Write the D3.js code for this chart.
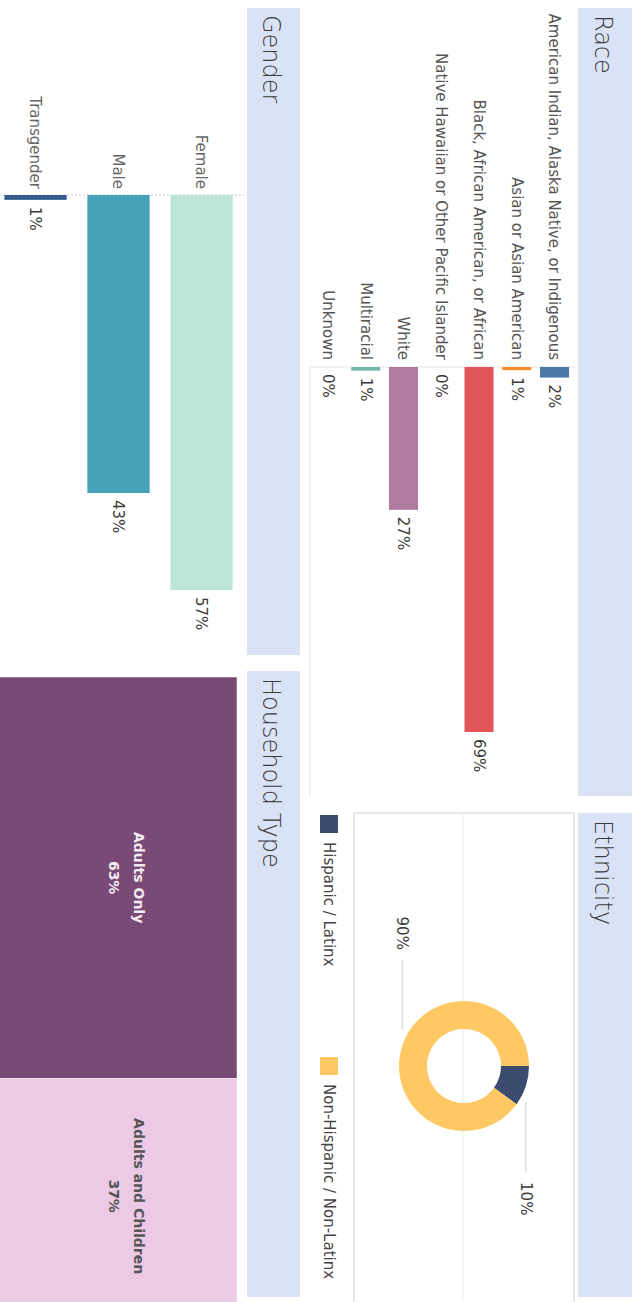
<!DOCTYPE html>
<html>
<head>
<meta charset="utf-8">
<script src="https://cdn.jsdelivr.net/npm/d3@7"></script>
<style>
	body { margin: 0; background: #fff; }
	text { font-family: "DejaVu Sans", sans-serif; }
</style>
</head>
<body>
<div id="dash"></div>
<script>
// data
// ---------------------------
const race_labels = [
	"American Indian, Alaska Native, or Indigenous",
	"Asian or Asian American",
	"Black, African American, or African",
	"Native Hawaiian or Other Pacific Islander",
	"White",
	"Multiracial",
	"Unknown"
];
const race_values = [0.02, 0.006, 0.69, 0, 0.27, 0.007, 0];

const ethnicity_labels = ["Hispanic / Latinx", "Non-Hispanic / Non-Latinx"];
const ethnicity_values = [0.10, 0.90];

const gender_labels = ["Female", "Male", "Transgender"];
const gender_values = [0.57, 0.43, 0.007];

const household_labels = ["Adults Only", "Adults and Children"];
const household_values = [0.63, 0.37];

// colors
let c_band = '#dae2f6',
	c_title = '#3a3a3a',
	c_label = '#555',
	c_value = '#3a3a3a',
	c_line = '#e3e3e3';

const race_colors = ['#4e79a7', '#f28e2b', '#e15759', '#76b7b2', '#b07aa1', '#76b7b2', '#59a14f'];
const ethnicity_colors = ['#3c4c6e', '#fec962'];
const gender_colors = ['#bde4d9', '#45a2b9', '#355a8d'];
const household_colors = ['#7a4a76', '#ecc9e4'];
const household_text = ['#f5ecf3', '#555'];

const pct = d3.format(".0%");

// the dashboard is drawn 1302 x 637 and turned a quarter clockwise
const W = 1302, H = 637;

let svg = d3.select("#dash")
	.append("svg")
	.attr("width", H)
	.attr("height", W);

let dash = svg.append("g")
	.attr("transform", "translate(" + H + ",0) rotate(90)");

// panel title bands
// ---------------------------
const panels = [
	{ title: "Race", x: 8, y: 5, w: 788, h: 54 },
	{ title: "Ethnicity", x: 813, y: 5, w: 484, h: 54 },
	{ title: "Gender", x: 8, y: 337, w: 647, h: 53 },
	{ title: "Household Type", x: 671, y: 337, w: 626, h: 53 }
];

let bands = dash.append("g").attr("id", "bands")
	.selectAll("g")
	.data(panels)
	.enter()
	.append("g");

bands.append("rect")
	.attr("x", d => d.x)
	.attr("y", d => d.y)
	.attr("width", d => d.w)
	.attr("height", d => d.h)
	.attr("fill", c_band);

bands.append("text")
	.attr("x", d => d.x + 7)
	.attr("y", d => d.y + 37)
	.attr("font-size", 24)
	.attr("font-weight", 200)
	.attr("fill", c_title)
	.text(d => d.title);

// race
// ---------------------------
let race = dash.append("g").attr("id", "race");

let race_y = d3.scaleBand()
	.domain(race_labels)
	.range([63.6, 327.9])
	.paddingInner(0.23)
	.paddingOuter(0.115);

let race_x = d3.scaleLinear()
	.domain([0, d3.max(race_values)])
	.range([367, 732]);

race.append("line")
	.attr("x1", race_x(0)).attr("x2", race_x(0))
	.attr("y1", 62).attr("y2", 327)
	.attr("stroke", c_line);

race.append("line")
	.attr("x1", race_x(0)).attr("x2", 796)
	.attr("y1", 327).attr("y2", 327)
	.attr("stroke", c_line);

race.selectAll(".bar")
	.data(race_values)
	.enter()
	.append("rect")
	.attr("class", "bar")
	.attr("x", race_x(0))
	.attr("y", (d, i) => race_y(race_labels[i]))
	.attr("width", d => race_x(d) - race_x(0))
	.attr("height", race_y.bandwidth())
	.attr("fill", (d, i) => race_colors[i]);

race.selectAll(".cat")
	.data(race_labels)
	.enter()
	.append("text")
	.attr("class", "cat")
	.attr("x", race_x(0) - 7)
	.attr("y", d => race_y(d) + race_y.bandwidth() / 2)
	.attr("dy", "0.35em")
	.attr("text-anchor", "end")
	.attr("font-size", 15)
	.attr("fill", c_label)
	.text(d => d);

race.selectAll(".val")
	.data(race_values)
	.enter()
	.append("text")
	.attr("class", "val")
	.attr("x", d => race_x(d) + 7)
	.attr("y", (d, i) => race_y(race_labels[i]) + race_y.bandwidth() / 2)
	.attr("dy", "0.35em")
	.attr("font-size", 15)
	.attr("fill", c_value)
	.text(d => pct(d));

// ethnicity
// ---------------------------
let eth = dash.append("g").attr("id", "ethnicity");

eth.append("rect")
	.attr("x", 813).attr("y", 63)
	.attr("width", 500).attr("height", 220)
	.attr("fill", "none")
	.attr("stroke", "#d2d2d2");

eth.append("line")
	.attr("x1", 814).attr("x2", 1313)
	.attr("y1", 174).attr("y2", 174)
	.attr("stroke", "#ededed");

let donut = eth.append("g")
	.attr("transform", "translate(1066,173)");

let pie = d3.pie().sort(null)(ethnicity_values);
let arc = d3.arc().innerRadius(37).outerRadius(65);
let rim = d3.arc().innerRadius(65).outerRadius(65);

donut.selectAll("path")
	.data(pie)
	.enter()
	.append("path")
	.attr("d", arc)
	.attr("fill", (d, i) => ethnicity_colors[i]);

// leader lines and labels
pie.forEach(function(d) {
	let p = rim.centroid(d);
	let side = p[0] >= 0 ? 1 : -1;
	donut.append("line")
		.attr("x1", p[0] + side * 16)
		.attr("x2", p[0] + side * 86)
		.attr("y1", p[1]).attr("y2", p[1])
		.attr("stroke", "#cfcfcf");
	donut.append("text")
		.attr("x", p[0] + side * 96)
		.attr("y", p[1])
		.attr("dy", "0.35em")
		.attr("text-anchor", side > 0 ? "start" : "end")
		.attr("font-size", 15)
		.attr("fill", c_value)
		.text(pct(d.data));
});

let legend_x = d3.scalePoint()
	.domain(ethnicity_labels)
	.range([815, 1057]);

let legend = eth.selectAll(".leg")
	.data(ethnicity_labels)
	.enter()
	.append("g")
	.attr("class", "leg")
	.attr("transform", d => "translate(" + legend_x(d) + ",299)");

legend.append("rect")
	.attr("width", 18).attr("height", 18)
	.attr("fill", (d, i) => ethnicity_colors[i]);

legend.append("text")
	.attr("x", 27).attr("y", 9)
	.attr("dy", "0.35em")
	.attr("font-size", 15)
	.attr("fill", "#444")
	.text(d => d);

// gender
// ---------------------------
let gender = dash.append("g").attr("id", "gender");

let gender_y = d3.scaleBand()
	.domain(gender_labels)
	.range([394, 643])
	.paddingInner(0.25)
	.paddingOuter(0.125);

let gender_x = d3.scaleLinear()
	.domain([0, d3.max(gender_values)])
	.range([195, 590]);

gender.append("line")
	.attr("x1", gender_x(0)).attr("x2", gender_x(0))
	.attr("y1", 392).attr("y2", 637)
	.attr("stroke", "#c8c8c8")
	.attr("stroke-dasharray", "2,2");

gender.selectAll(".bar")
	.data(gender_values)
	.enter()
	.append("rect")
	.attr("class", "bar")
	.attr("x", gender_x(0))
	.attr("y", (d, i) => gender_y(gender_labels[i]))
	.attr("width", d => gender_x(d) - gender_x(0))
	.attr("height", gender_y.bandwidth())
	.attr("fill", (d, i) => gender_colors[i]);

gender.selectAll(".cat")
	.data(gender_labels)
	.enter()
	.append("text")
	.attr("class", "cat")
	.attr("x", gender_x(0) - 6)
	.attr("y", d => gender_y(d) + gender_y.bandwidth() / 2)
	.attr("dy", "0.35em")
	.attr("text-anchor", "end")
	.attr("font-size", 15)
	.attr("fill", "#666")
	.text(d => d);

gender.selectAll(".val")
	.data(gender_values)
	.enter()
	.append("text")
	.attr("class", "val")
	.attr("x", d => gender_x(d) + 7)
	.attr("y", (d, i) => gender_y(gender_labels[i]) + gender_y.bandwidth() / 2)
	.attr("dy", "0.35em")
	.attr("font-size", 15)
	.attr("fill", c_value)
	.text(d => pct(d));

// household type
// ---------------------------
let root = d3.hierarchy({
		children: household_labels.map((k, i) => ({ name: k, value: household_values[i], i: i }))
	})
	.sum(d => d.value || 0);

d3.treemap()
	.tile(d3.treemapDice)
	.size([637, 240])(root);

let house = dash.append("g")
	.attr("id", "household")
	.attr("transform", "translate(677,400)");

let cell = house.selectAll("g")
	.data(root.leaves())
	.enter()
	.append("g")
	.attr("transform", d => "translate(" + d.x0 + "," + d.y0 + ")");

cell.append("rect")
	.attr("width", d => d.x1 - d.x0)
	.attr("height", d => d.y1 - d.y0)
	.attr("fill", d => household_colors[d.data.i])
	.attr("stroke", "#fff")
	.attr("stroke-width", 0.5);

let cell_text = cell.append("text")
	.attr("x", d => (d.x1 - d.x0) / 2)
	.attr("y", d => (d.y1 - d.y0) / 2)
	.attr("text-anchor", "middle")
	.attr("font-size", 14)
	.attr("font-weight", 600)
	.attr("fill", d => household_text[d.data.i]);

cell_text.append("tspan")
	.attr("x", d => (d.x1 - d.x0) / 2)
	.attr("dy", -17)
	.text(d => d.data.name);

cell_text.append("tspan")
	.attr("x", d => (d.x1 - d.x0) / 2)
	.attr("dy", 25)
	.text(d => pct(d.data.value));
</script>
</body>
</html>
